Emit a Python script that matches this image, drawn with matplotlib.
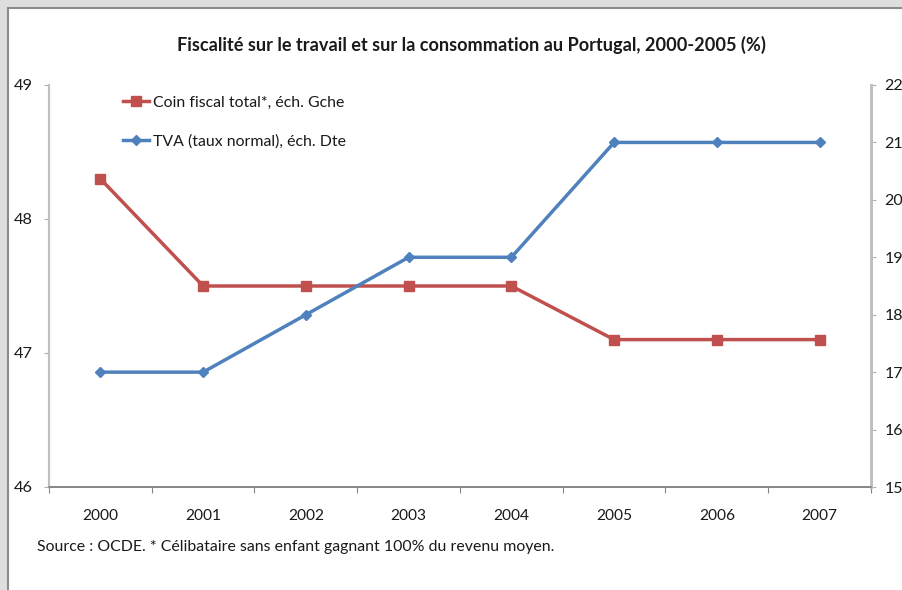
import matplotlib
matplotlib.use("Agg")
import matplotlib.pyplot as plt
from matplotlib.patches import Rectangle

years = ["2000", "2001", "2002", "2003", "2004", "2005", "2006", "2007"]
coin_fiscal = [48.3, 47.5, 47.5, 47.5, 47.5, 47.1, 47.1, 47.1]
tva = [17, 17, 18, 19, 19, 21, 21, 21]
left_ticks = [46, 47, 48, 49]
right_ticks = [15, 16, 17, 18, 19, 20, 21, 22]

RED = "#C0504D"
BLUE = "#4F81BD"
TXT = "#1a1a1a"

plt.rcParams['font.family'] = ['Lato', 'DejaVu Sans']

W, H = 903, 590
fig = plt.figure(figsize=(W / 100, H / 100), dpi=100)
fig.patch.set_facecolor("#dedede")
fig.patches.append(Rectangle((8 / W, -0.01), 1, 1 - 8 / H + 0.01, transform=fig.transFigure,
                             facecolor="white", edgecolor="#8c8c8c", linewidth=1.5, zorder=-5))

x0, x1 = 49, 871
y0, y1 = 85, 487
ax = fig.add_axes([x0 / W, 1 - y1 / H, (x1 - x0) / W, (y1 - y0) / H])
ax.set_facecolor("none")
ax2 = ax.twinx()

xs = list(range(len(years)))
l1, = ax.plot(xs, coin_fiscal, color=RED, lw=2.5, marker="s", ms=7.5, zorder=3,
              label="Coin fiscal total*, éch. Gche")
l2, = ax2.plot(xs, tva, color=BLUE, lw=2.5, marker="D", ms=5, zorder=3,
               label="TVA (taux normal), éch. Dte")

ax.set_xlim(-0.5, len(years) - 0.5)
ax.set_ylim(46, 49)
ax2.set_ylim(15, 22)
ax.set_yticks(left_ticks)
ax2.set_yticks(right_ticks)
ax.set_xticks([i - 0.5 for i in range(len(years) + 1)])
ax.set_xticklabels([])
ax.set_xticks(xs, minor=True)
ax.set_xticklabels(years, minor=True)
ax.tick_params(axis="x", which="minor", length=0, pad=16, labelsize=11.2, labelcolor=TXT)
ax.tick_params(axis="x", which="major", length=4, color="#868686", direction="out")
ax.tick_params(axis="y", length=3.5, color="#b0b0b0", labelsize=11.8, labelcolor=TXT, pad=8.5)
ax2.tick_params(axis="y", length=3.5, color="#b0b0b0", labelsize=11.5, labelcolor=TXT, pad=6)

for a in (ax, ax2):
    a.spines["top"].set_visible(False)
    a.spines["left"].set_color("#c0c0c0")
    a.spines["right"].set_color("#c0c0c0")
    a.spines["left"].set_linewidth(1.5)
    a.spines["right"].set_linewidth(2)
    a.spines["bottom"].set_color("#868686")
    a.spines["bottom"].set_linewidth(1.2)

leg = ax.legend(handles=[l1, l2], loc="upper left", bbox_to_anchor=(68 / (x1 - x0), 0.99),
                frameon=False, fontsize=11.4, labelspacing=1.55, handlelength=1.6,
                handletextpad=0.3, borderaxespad=0)
for t in leg.get_texts():
    t.set_color(TXT)

fig.text(471 / W, 1 - 45 / H, "Fiscalité sur le travail et sur la consommation au Portugal, 2000-2005 (%)",
         ha="center", va="center", fontsize=13.1, fontweight="bold", color=TXT)
fig.text(37 / W, 1 - 547 / H, "Source : OCDE. * Célibataire sans enfant gagnant 100% du revenu moyen.",
         ha="left", va="center", fontsize=11.4, color=TXT)

fig.savefig("out.png", dpi=100, facecolor=fig.get_facecolor())
